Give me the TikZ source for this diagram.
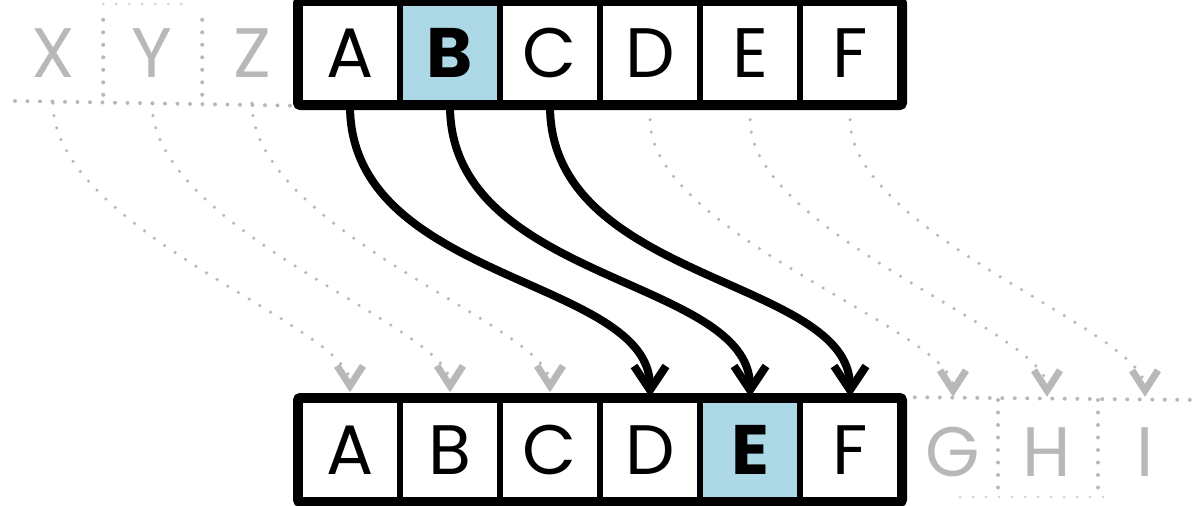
\documentclass[tikz,border=0pt]{standalone}
\usepackage{fontspec}
\setmainfont{Poppins}
\usetikzlibrary{arrows.meta}
\definecolor{ghost}{HTML}{B8B8B8}
\definecolor{hl}{HTML}{ADD8E6}
\begin{document}
\begin{tikzpicture}[x=1pt,y=-1pt,
  letter/.style={font=\fontsize{70}{70}\selectfont},
  cell/.style={letter,draw=black,line width=5.5pt,minimum width=100pt,minimum height=100pt,inner sep=0pt},
  hlcell/.style={cell,fill=hl,font=\fontsize{70}{70}\selectfont\bfseries},
  ghostcell/.style={letter,minimum width=100pt,minimum height=100pt,inner sep=0pt,text=ghost},
  ghostline/.style={ghost,line width=4pt,line cap=round,dash pattern=on 0pt off 12.5pt},
  faintline/.style={ghost!60,line width=3pt,line cap=round,dash pattern=on 0pt off 13pt},
  shiftarrow/.style={line width=8pt,-{Straight Barb[length=24pt,width=32pt]}},
  ghostarrow/.style={ghost,line width=3.5pt,line cap=round,dash pattern=on 0pt off 12.5pt,
    -{Straight Barb[length=20pt,width=26pt,line width=7pt]}, shorten >=5pt}
]
\useasboundingbox (0,0) rectangle (1200,506);
% top row
\node[cell]   (t1) at (350,53) {A};
\node[hlcell] (t2) at (450,53) {B};
\node[cell]   (t3) at (550,53) {C};
\node[cell]   (t4) at (650,53) {D};
\node[cell]   (t5) at (750,53) {E};
\node[cell]   (t6) at (850,53) {F};
\draw[line width=8.5pt,rounded corners=3pt] (t1.north west) rectangle (t6.south east);
% ghost letters left
\node[ghostcell] (x) at (53,53) {X};
\node[ghostcell] (y) at (152,53) {Y};
\node[ghostcell] (z) at (252,53) {Z};
\draw[ghostline] (15,101) -- (t1.south west);
\draw[ghostline] (x.north east) ++(0,17) -- (x.south east);
\draw[ghostline] (y.north east) ++(0,17) -- (y.south east);
\draw[faintline] (x.north east) ++(0,1) -- ++(80,0);
% bottom row
\node[cell]   (b1) at (350,450) {A};
\node[cell]   (b2) at (450,450) {B};
\node[cell]   (b3) at (550,450) {C};
\node[cell]   (b4) at (650,450) {D};
\node[hlcell] (b5) at (750,450) {E};
\node[cell]   (b6) at (850,450) {F};
\draw[line width=8.5pt,rounded corners=3pt] (b1.north west) rectangle (b6.south east);
% ghost letters right
\node[ghostcell] (g) at (953,452) {G};
\node[ghostcell] (h) at (1047,452) {H};
\node[ghostcell] (i) at (1145,452) {I};
\draw[ghostline] (b6.north east) ++(12,0) -- (1200,400);
\draw[ghostline] (998,400) -- (998,488);
\draw[ghostline] (1098,400) -- (1098,488);
\draw[faintline] (960,497) -- (1110,497);
% shift arrows
\draw[shiftarrow] (t1.south) .. controls +(0,177) and +(0,-120) .. (b4.north);
\draw[shiftarrow] (t2.south) .. controls +(0,177) and +(0,-120) .. (b5.north);
\draw[shiftarrow] (t3.south) .. controls +(0,177) and +(0,-120) .. (b6.north);
% ghost arrows
\draw[ghostarrow] (x.south) .. controls +(0,127) and +(0,-70) .. (b1.north);
\draw[ghostarrow] (y.south) .. controls +(0,127) and +(0,-70) .. (b2.north);
\draw[ghostarrow] (z.south) .. controls +(0,127) and +(0,-70) .. (b3.north);
\draw[ghostarrow, shorten <=14pt] (t4.south) .. controls +(0,127) and +(0,-70) .. (g.north);
\draw[ghostarrow, shorten <=14pt] (t5.south) .. controls +(0,127) and +(0,-70) .. (h.north);
\draw[ghostarrow, shorten <=14pt] (t6.south) .. controls +(0,127) and +(0,-70) .. (i.north);
\end{tikzpicture}
\end{document}
